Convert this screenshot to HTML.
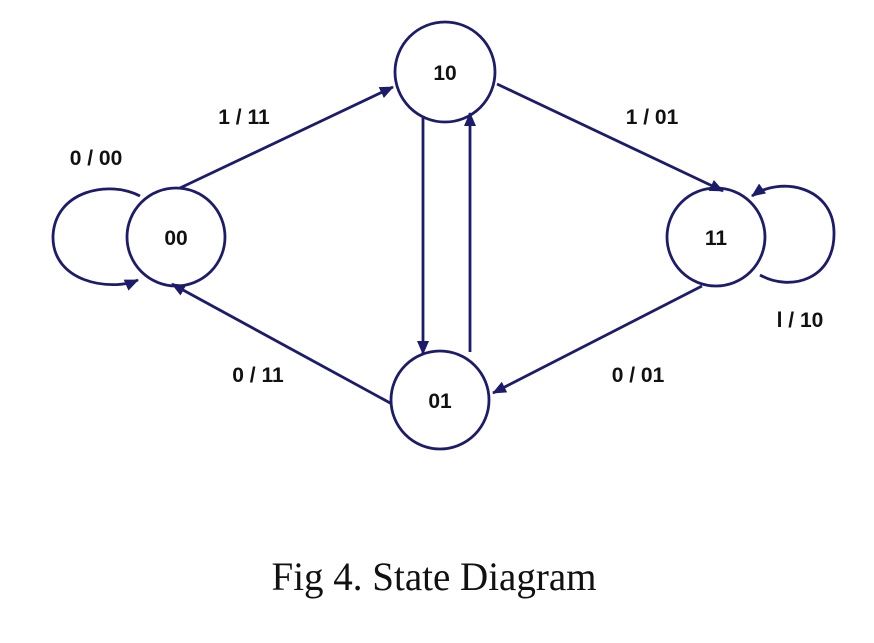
<!DOCTYPE html>
<html><head><meta charset="utf-8"><style>
html,body{margin:0;padding:0;background:#fff;}
svg{display:block}
</style></head><body>
<svg width="874" height="643" viewBox="0 0 874 643" xmlns="http://www.w3.org/2000/svg">
<defs>
<marker id="a" markerWidth="14" markerHeight="12" refX="13" refY="6" orient="auto" markerUnits="userSpaceOnUse">
<path d="M0,0 L14,6 L0,12 Z" fill="#1c1c6a"/>
</marker>
</defs>
<g fill="none" stroke="#1c1c6a" stroke-width="2.8">
<circle cx="445" cy="72" r="50"/>
<circle cx="176" cy="237" r="49"/>
<circle cx="716" cy="237" r="49"/>
<circle cx="440" cy="400" r="49"/>
<line x1="180" y1="188" x2="393" y2="87" marker-end="url(#a)"/>
<line x1="497" y1="84" x2="723" y2="191" marker-end="url(#a)"/>
<line x1="702" y1="286" x2="493" y2="393" marker-end="url(#a)"/>
<line x1="392" y1="404" x2="172" y2="284" marker-end="url(#a)"/>
<line x1="423" y1="118" x2="423" y2="354" marker-end="url(#a)"/>
<line x1="470" y1="352" x2="470" y2="113" marker-end="url(#a)"/>
<path d="M140,196 C110,180 55,190 53,236 C52,282 110,292 138,280" marker-end="url(#a)"/>
<path d="M760,275 C790,292 835,280 834,232 C833,186 780,176 752,196" marker-end="url(#a)"/>
</g>
<g font-family="Liberation Sans, Arial, sans-serif" font-weight="bold" font-size="21" fill="#111" text-anchor="middle">
<text x="445" y="80">10</text>
<text x="176" y="245">00</text>
<text x="716" y="245">11</text>
<text x="440" y="408">01</text>
<text x="244" y="124">1 / 11</text>
<text x="652" y="124">1 / 01</text>
<text x="96" y="165">0 / 00</text>
<text x="800" y="327">l / 10</text>
<text x="258" y="382">0 / 11</text>
<text x="638" y="382">0 / 01</text>
</g>
<text x="434" y="590" font-family="Liberation Serif, serif" font-size="40" fill="#111" text-anchor="middle" textLength="325" lengthAdjust="spacingAndGlyphs">Fig 4. State Diagram</text>
</svg>
</body></html>
